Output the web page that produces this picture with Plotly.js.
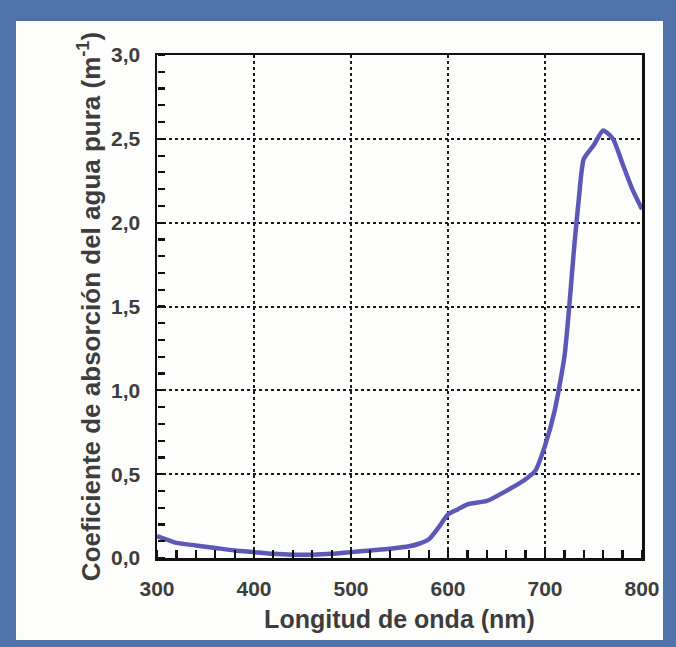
<!DOCTYPE html>
<html>
<head>
<meta charset="utf-8">
<script src="https://cdn.plot.ly/plotly-3.0.1.min.js"></script>
<style>
  html, body { margin: 0; padding: 0; background: #4f73a8; }
  #chart { width: 676px; height: 647px; }
</style>
</head>
<body>
<div id="chart"></div>
<script>
// Wavelength (nm)
const wavelength = [300,310,320,340,360,380,400,420,440,460,480,500,520,540,560,570,580,590,600,610,620,640,660,680,690,700,710,720,725,730,735,740,750,760,770,780,790,800];
// Absorption coefficient of pure water (m^-1)
const absorption = [0.13,0.11,0.09,0.075,0.06,0.045,0.035,0.025,0.02,0.02,0.025,0.035,0.045,0.055,0.07,0.085,0.11,0.18,0.26,0.29,0.32,0.34,0.40,0.47,0.52,0.67,0.88,1.20,1.50,1.85,2.15,2.38,2.46,2.55,2.50,2.35,2.20,2.08];
const xRange = [300, 800], yRange = [0, 3];
const xTick0 = 300, xTickStep = 100, xMinorStep = 20;
const yTick0 = 0, yTickStep = 0.5, yMinorStep = 0.1;

const txt = '#3d3d3d';
const fontFam = 'Liberation Sans, Arial, sans-serif';
const tickCol = '#111';

const trace = {
  x: wavelength, y: absorption, type: 'scatter', mode: 'lines',
  line: { color: '#5d58b8', width: 4.5, shape: 'spline', smoothing: 0.6 },
  hoverinfo: 'skip'
};
// empty trace carrying the tick-only axes
const tickAxesTrace = { x: [], y: [], type: 'scatter', mode: 'lines', xaxis: 'x2', yaxis: 'y2', hoverinfo: 'skip', showlegend: false };

// white panel behind the chart
const shapes = [{
  type: 'rect', xref: 'paper', yref: 'paper', layer: 'below',
  x0: -0.2907, x1: 1.0433, y0: -0.163, y1: 1.0676,
  fillcolor: '#fdfdfb', line: { width: 0 }
}];

const layout = {
  width: 676, height: 647,
  margin: { l: 157, r: 34, t: 55, b: 89 },
  paper_bgcolor: '#4f73a8',
  plot_bgcolor: '#fdfdfb',
  separators: ',.',
  showlegend: false,
  font: { family: fontFam, color: txt },
  shapes: shapes,
  xaxis: {
    range: xRange, tickmode: 'linear', tick0: xTick0, dtick: xTickStep, tickformat: 'd',
    showline: true, mirror: true, linecolor: '#111', linewidth: 2.5,
    showgrid: true, gridcolor: '#1a1a1a', gridwidth: 2, griddash: 'dot',
    ticks: '',
    tickfont: { size: 21, color: txt, family: fontFam, weight: 'bold' },
    ticklabelstandoff: 10,
    zeroline: false, automargin: false,
    title: { text: 'Longitud de onda (nm)', font: { size: 25, color: txt, family: fontFam, weight: 'bold' }, standoff: 12 }
  },
  yaxis: {
    range: yRange, tickmode: 'linear', tick0: yTick0, dtick: yTickStep, tickformat: '.1f',
    showline: true, mirror: true, linecolor: '#111', linewidth: 2.5,
    showgrid: true, gridcolor: '#1a1a1a', gridwidth: 2, griddash: 'dot',
    ticks: '',
    tickfont: { size: 21, color: txt, family: fontFam, weight: 'bold' },
    ticklabelstandoff: 10,
    zeroline: false, automargin: false,
    title: { text: 'Coeficiente de absorción del agua pura (m<sup>-1</sup>)', font: { size: 26, color: txt, family: fontFam, weight: 'bold' }, standoff: 3 }
  },
  // tick-only axes: placed on the bottom / left edges, facing "outward" from the opposite side so ticks point into the plot
  xaxis2: {
    overlaying: 'x', anchor: 'free', position: 0, side: 'top', range: xRange,
    tickmode: 'linear', tick0: xTick0, dtick: xMinorStep,
    ticks: 'outside', ticklen: 8, tickwidth: 2.2, tickcolor: tickCol,
    showticklabels: false, showgrid: false, showline: false, zeroline: false, automargin: false
  },
  yaxis2: {
    overlaying: 'y', anchor: 'free', position: 0, side: 'right', range: yRange,
    tickmode: 'linear', tick0: yTick0, dtick: yMinorStep,
    ticks: 'outside', ticklen: 7, tickwidth: 2.2, tickcolor: tickCol,
    showticklabels: false, showgrid: false, showline: false, zeroline: false, automargin: false
  }
};

Plotly.newPlot('chart', [trace, tickAxesTrace], layout, { displayModeBar: false, staticPlot: true });
</script>
</body>
</html>
